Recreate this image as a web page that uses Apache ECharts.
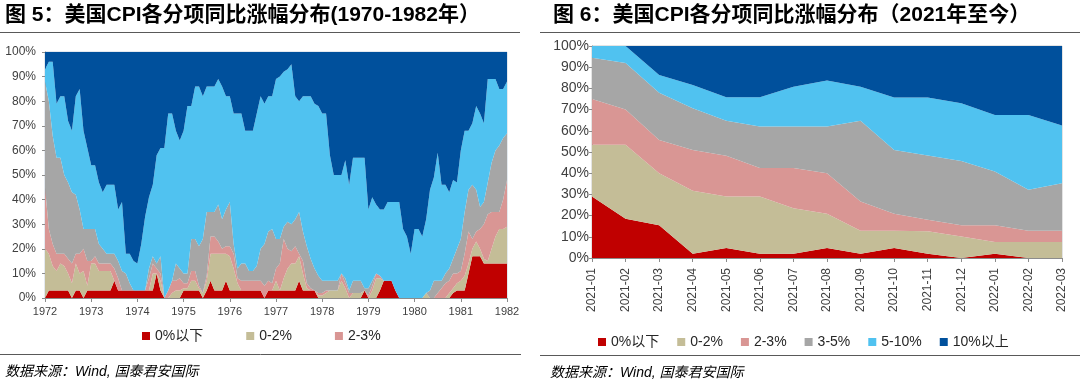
<!DOCTYPE html>
<html>
<head>
<meta charset="utf-8">
<script src="https://cdn.jsdelivr.net/npm/echarts@6/dist/echarts.min.js"></script>
<style>
html,body{margin:0;padding:0;background:#fff;}
#c{width:1080px;height:383px;}
</style>
</head>
<body>
<div id="c"></div>
<script>
// ---------- Figure 5 (1972-1982, monthly) ----------
const yearTicks = ['1972','1973','1974','1975','1976','1977','1978','1979','1980','1981','1982'];
const months70 = [];
for (let y = 1972; y <= 1982; y++) {
  for (let m = 1; m <= 12; m++) {
    if (y === 1982 && m > 1) break;
    months70.push(y + '-' + (m < 10 ? '0' + m : m));
  }
}
const red70 = [
0,3,3,3,3,3,3,0,3,3,0,3,
3,3,3,3,3,3,7,3,3,3,3,3,
3,3,3,3,3,10,3,0,0,0,0,0,
3,3,3,3,3,0,3,7,3,3,3,7,
3,3,3,3,3,3,3,3,3,0,3,3,
3,3,3,3,3,3,7,3,3,3,3,0,
0,0,0,0,0,0,0,0,0,0,0,3,
0,0,0,3,7,7,7,3,0,0,0,0,
0,0,0,0,0,0,0,0,0,0,2,3,
3,3,10,17,17,17,14,14,14,14,14,14,
14];
const tan70 = [
20,15,10,8,11,10,7,6,11,7,11,2,
11,11,8,8,8,8,0,0,0,0,0,0,
0,0,0,0,7,0,4,0,0,2,3,3,
1,1,4,4,1,2,4,11,15,15,15,11,
14,9,3,0,0,0,0,0,0,0,0,0,
4,0,5,9,11,11,10,7,1,0,0,1,
1,2,3,3,3,7,4,0,2,2,2,0,
0,3,8,5,0,0,0,0,0,0,0,0,
0,0,0,2,0,0,0,0,0,2,2,3,
4,6,4,3,6,3,2,1,6,11,14,14,
15];
const pink70 = [
25,10,9,7,4,5,6,8,4,8,9,10,
1,3,3,3,3,3,5,5,0,0,0,0,
0,0,0,5,4,2,3,0,3,5,4,5,
2,2,4,4,1,0,2,7,7,5,2,3,
4,6,2,4,4,4,4,4,4,5,4,3,
5,11,16,8,5,7,1,5,2,1,0,1,
1,1,0,0,0,3,2,2,0,0,0,0,
1,2,2,1,0,0,0,0,0,0,0,0,
0,0,0,0,0,0,2,4,6,5,6,4,
4,9,13,4,4,8,14,19,15,10,7,12,
19];
const gray70 = [
43,52,44,39,39,32,31,29,24,18,8,13,
13,11,8,6,4,4,6,7,8,7,3,0,
0,0,0,4,3,2,7,0,0,0,7,4,
4,4,13,13,16,22,26,10,10,15,12,15,
18,4,4,7,7,4,4,6,13,17,20,22,
12,10,5,11,11,11,17,12,15,12,9,7,
5,4,4,4,4,0,2,1,5,5,5,1,
3,2,0,0,0,0,0,0,0,0,0,0,
0,0,0,0,3,7,5,3,4,5,6,10,
13,17,17,22,17,9,9,13,20,25,27,25,
19];
const lblue70 = [
5,16,30,22,25,32,25,25,40,49,40,33,
26,26,25,23,28,28,28,21,28,8,12,12,
11,19,30,29,29,44,44,61,72,68,54,52,
58,68,54,62,65,58,51,51,51,51,54,46,
43,53,63,61,54,57,57,62,62,57,55,54,
65,66,63,62,65,50,45,55,61,66,67,69,
68,68,51,43,43,40,48,43,50,50,50,53,
32,34,28,27,29,32,32,36,39,28,25,18,
28,28,25,30,41,42,52,39,36,31,32,27,
36,33,24,25,34,38,32,42,34,29,23,20,
21];
const dblue70 = [
7,4,4,21,18,18,28,32,18,15,32,39,
46,46,53,57,54,54,54,64,61,82,82,85,
86,78,67,59,54,42,39,39,25,25,32,36,
32,22,22,14,14,18,14,14,14,11,14,18,
18,25,25,25,32,32,32,25,18,21,18,18,
11,10,8,7,5,18,20,18,18,18,21,22,
25,25,42,50,50,50,44,54,43,43,43,43,
64,59,62,64,64,61,61,61,61,72,75,82,
72,72,75,68,56,51,41,54,54,57,52,53,
40,32,32,29,22,25,29,11,11,11,15,15,
12];

// ---------- Figure 6 (2021-01 .. 2022-03) ----------
const cats21 = ['2021-01','2021-02','2021-03','2021-04','2021-05','2021-06','2021-07','2021-08',
  '2021-09','2021-10','2021-11','2021-12','2022-01','2022-02','2022-03'];
const red21   = [29.0,18.5,15.4,2.0,4.7,2.0,2.0,4.7,2.0,4.7,2.0,0,2.0,0,0];
const tan21   = [24.4,34.9,24.6,29.7,24.3,27.0,21.5,16.2,10.9,8.2,10.6,10.2,5.5,7.5,7.5];
const pink21  = [21.6,16.6,15.7,19.3,19.2,13.4,18.9,19.1,13.8,8.0,5.4,5.2,7.9,5.4,5.4];
const gray21  = [19.5,22.0,22.3,19.6,16.5,19.6,19.6,22.0,38.0,30.1,30.4,30.4,25.4,19.3,22.4];
const lblue21 = [5.5,8.0,8.3,11.0,11.1,13.8,18.8,21.7,16.1,24.7,27.3,27.2,26.7,35.3,27.2];
const dblue21 = [0,0,13.7,18.4,24.2,24.2,19.2,16.3,19.2,24.3,24.3,27.0,32.5,32.5,37.5];

const seriesNames = ['0%以下','0-2%','2-3%','3-5%','5-10%','10%以上'];
const colors = ['#C00000','#C4BD97','#D99694','#A6A6A6','#50C2F0','#00509C'];

const latin = '"Liberation Sans", Arial, "Noto Sans CJK SC", sans-serif';
const txtColor = '#404040';

function mkSeries(data, i, gi, stackName) {
  return {
    name: seriesNames[i], type: 'line', stack: stackName,
    xAxisIndex: gi, yAxisIndex: gi,
    data: data, symbol: 'none', smooth: false,
    lineStyle: {width: 0},
    itemStyle: {color: colors[i]},
    areaStyle: {color: colors[i], opacity: 1},
    emphasis: {disabled: true},
    animation: false
  };
}

function yAx(gi, fs, mg) {
  return {
    type: 'value', gridIndex: gi, min: 0, max: 100, interval: 10,
    axisLabel: {formatter: '{value}%', fontSize: fs, color: txtColor, fontFamily: latin, margin: mg},
    axisLine: {show: true, lineStyle: {color: '#8c8c8c'}},
    axisTick: {show: true, length: 3, lineStyle: {color: '#8c8c8c'}},
    splitLine: {show: false}
  };
}

const chart = echarts.init(document.getElementById('c'), null, {renderer: 'canvas'});
chart.setOption({
  animation: false,
  backgroundColor: '#ffffff',
  grid: [
    {left: 45, right: 573, top: 52, bottom: 85, show: true, borderColor: '#c8d3de', borderWidth: 1, backgroundColor: 'transparent'},
    {left: 592, right: 18, top: 46, bottom: 125, show: true, borderColor: '#c8c8c8', borderWidth: 1, backgroundColor: 'transparent'}
  ],
  xAxis: [
    {
      type: 'category', gridIndex: 0, data: months70, boundaryGap: false,
      axisLabel: {interval: 11, fontSize: 11, color: txtColor, fontFamily: latin, margin: 8,
        formatter: function (v, idx) { return yearTicks[Math.round(idx / 12)]; }},
      axisTick: {interval: 11, length: 4, lineStyle: {color: '#8c8c8c'}},
      axisLine: {lineStyle: {color: '#8c8c8c'}}
    },
    {
      type: 'category', gridIndex: 1, data: cats21, boundaryGap: false,
      axisLabel: {interval: 0, rotate: 90, fontSize: 12, color: txtColor, fontFamily: latin, margin: 10},
      axisTick: {interval: 0, length: 4, lineStyle: {color: '#8c8c8c'}},
      axisLine: {lineStyle: {color: '#8c8c8c'}}
    }
  ],
  yAxis: [yAx(0, 12, 9), yAx(1, 14, 3)],
  legend: [
    {
      data: ['0%以下','0-2%','2-3%'], left: 142, top: 329, padding: 0,
      itemWidth: 8, itemHeight: 8, itemGap: 43, icon: 'rect',
      textStyle: {fontSize: 14, color: '#262626', fontFamily: latin},
      selectedMode: false
    },
    {
      data: seriesNames, left: 598, top: 335, padding: 0,
      itemWidth: 8, itemHeight: 8, itemGap: 18, icon: 'rect',
      textStyle: {fontSize: 14, color: '#262626', fontFamily: latin},
      selectedMode: false
    }
  ],
  series: [
    mkSeries(red70, 0, 0, 'L'), mkSeries(tan70, 1, 0, 'L'), mkSeries(pink70, 2, 0, 'L'),
    mkSeries(gray70, 3, 0, 'L'), mkSeries(lblue70, 4, 0, 'L'), mkSeries(dblue70, 5, 0, 'L'),
    mkSeries(red21, 0, 1, 'R'), mkSeries(tan21, 1, 1, 'R'), mkSeries(pink21, 2, 1, 'R'),
    mkSeries(gray21, 3, 1, 'R'), mkSeries(lblue21, 4, 1, 'R'), mkSeries(dblue21, 5, 1, 'R')
  ],
  graphic: [
    {type: 'text', left: 5, top: 5, style: {text: '图 5：美国CPI各分项同比涨幅分布(1970-1982年）', fill: '#000', font: 'bold 21px ' + latin}},
    {type: 'text', left: 553, top: 5, style: {text: '图 6：美国CPI各分项同比涨幅分布（2021年至今）', fill: '#000', font: 'bold 21px ' + latin}},
    {type: 'line', shape: {x1: 0, y1: 32.5, x2: 520, y2: 32.5}, style: {stroke: '#595959', lineWidth: 1}},
    {type: 'line', shape: {x1: 540, y1: 32.5, x2: 1080, y2: 32.5}, style: {stroke: '#595959', lineWidth: 1}},
    {type: 'line', shape: {x1: 0, y1: 354.5, x2: 521, y2: 354.5}, style: {stroke: '#595959', lineWidth: 1}},
    {type: 'line', shape: {x1: 540, y1: 355.5, x2: 1080, y2: 355.5}, style: {stroke: '#595959', lineWidth: 1}},
    {type: 'text', left: 5, top: 365, style: {text: '数据来源：Wind, 国泰君安国际', fill: '#000', font: 'italic 14px ' + latin}},
    {type: 'text', left: 550, top: 366, style: {text: '数据来源：Wind, 国泰君安国际', fill: '#000', font: 'italic 14px ' + latin}}
  ]
});
</script>
</body>
</html>
